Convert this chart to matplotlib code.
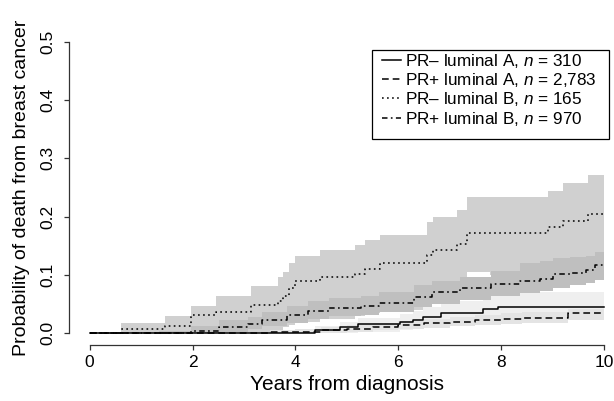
import numpy as np
import matplotlib
matplotlib.use("Agg")
import matplotlib.pyplot as plt
from matplotlib.patches import Rectangle

plt.rcParams['font.family'] = ['Liberation Sans', 'DejaVu Sans']
plt.rcParams['mathtext.fontset'] = 'custom'
plt.rcParams['mathtext.it'] = 'Liberation Sans:italic'
plt.rcParams['mathtext.rm'] = 'Liberation Sans'

# PR- luminal A (solid)
t_a_neg = [0, 4.39, 4.87, 5.22, 6.03, 6.29, 6.49, 6.84, 7.65, 7.94, 10]
p_a_neg = [0, 0.005, 0.0103, 0.0154, 0.02, 0.0228, 0.0285, 0.035, 0.041, 0.0457, 0.0457]
hi_a_neg = [0, 0.012, 0.02, 0.027, 0.033, 0.038, 0.045, 0.055, 0.064, 0.071, 0.071]
lo_a_neg = [0, 0, 0.001, 0.003, 0.006, 0.008, 0.012, 0.016, 0.02, 0.024, 0.024]

# PR+ luminal A (dashed)
t_a_pos = [0, 2.0, 3.0, 3.5, 4.0, 4.5, 5.0, 5.5, 6.0, 6.5, 7.0, 7.5, 8.0, 8.4, 9.31, 10]
p_a_pos = [0, 0.0005, 0.001, 0.002, 0.003, 0.005, 0.008, 0.011, 0.014, 0.017, 0.02, 0.022,
           0.025, 0.027, 0.034, 0.034]
hi_a_pos = [0, 0.002, 0.003, 0.005, 0.007, 0.01, 0.014, 0.018, 0.021, 0.025, 0.028, 0.031,
            0.034, 0.036, 0.042, 0.042]
lo_a_pos = [0, 0, 0, 0, 0, 0.001, 0.003, 0.005, 0.007, 0.009, 0.012, 0.014, 0.016, 0.018,
            0.023, 0.023]

# PR- luminal B (dotted)
t_b_neg = [0, 0.6, 1.46, 1.97, 2.45, 3.14, 3.66, 3.76, 3.88, 4.0, 4.48, 5.16, 5.35, 5.64,
           6.55, 6.68, 7.14, 7.33, 7.78, 8.92, 9.21, 9.69, 10]
p_b_neg = [0, 0.007, 0.0125, 0.031, 0.037, 0.049, 0.056, 0.064, 0.078, 0.089, 0.0966, 0.1025,
           0.111, 0.12, 0.134, 0.1436, 0.154, 0.172, 0.172, 0.183, 0.193, 0.204, 0.204]
hi_b_neg = [0, 0.017, 0.03, 0.047, 0.064, 0.081, 0.097, 0.105, 0.12, 0.133, 0.1425, 0.151,
            0.16, 0.168, 0.191, 0.2, 0.212, 0.233, 0.233, 0.244, 0.257, 0.271, 0.271]
lo_b_neg = [0, 0, 0, 0, 0, 0, 0.005, 0.01, 0.015, 0.02, 0.025, 0.03, 0.035, 0.04, 0.05, 0.055,
            0.065, 0.105, 0.1, 0.105, 0.11, 0.12, 0.12]

# PR+ luminal B (dot-dash)
t_b_pos = [0, 1.35, 1.97, 2.52, 3.07, 3.35, 3.83, 4.24, 4.65, 5.27, 5.62, 6.3, 6.65, 7.2,
           7.81, 8.36, 8.75, 9.0, 9.33, 9.66, 9.82, 10]
p_b_pos = [0, 0.001, 0.0045, 0.011, 0.016, 0.023, 0.031, 0.039, 0.044, 0.047, 0.052, 0.0625,
           0.07, 0.077, 0.085, 0.089, 0.094, 0.101, 0.104, 0.109, 0.117, 0.117]
hi_b_pos = [0, 0.004, 0.012, 0.022, 0.028, 0.036, 0.046, 0.055, 0.06, 0.064, 0.07, 0.082,
            0.09, 0.097, 0.107, 0.12, 0.124, 0.13, 0.131, 0.133, 0.14, 0.14]
lo_b_pos = [0, 0, 0, 0.003, 0.007, 0.012, 0.018, 0.024, 0.029, 0.032, 0.036, 0.045, 0.051,
            0.057, 0.064, 0.069, 0.072, 0.078, 0.082, 0.086, 0.091, 0.091]

labels = ["PR\u2013 luminal A, $n$ = 310", "PR+ luminal A, $n$ = 2,783",
          "PR\u2013 luminal B, $n$ = 165", "PR+ luminal B, $n$ = 970"]

fig = plt.figure(figsize=(6.14, 4.01), dpi=100)
ax = fig.add_axes([0.1125, 0.1397, 0.9047, 0.7853])

# confidence bands
ax.fill_between(t_b_neg, lo_b_neg, hi_b_neg, step='post', color='#d0d0d0', lw=0, zorder=1)
ax.fill_between(t_a_neg, lo_a_neg, hi_a_neg, step='post', color='#efefef', lw=0, zorder=2)
ax.fill_between(t_a_pos, lo_a_pos, hi_a_pos, step='post', color='#e4e4e4', lw=0, zorder=3)
ax.fill_between(t_b_pos, lo_b_pos, hi_b_pos, step='post', color='#bfbfbf', lw=0, zorder=4)

lw = 1.1
ax.plot(t_a_neg, p_a_neg, drawstyle='steps-post', color='black', lw=lw, zorder=10, label=labels[0])
ax.plot(t_a_pos, p_a_pos, drawstyle='steps-post', color='black', lw=lw, zorder=10,
        dashes=(4.4, 2.6), label=labels[1])
ax.plot(t_b_neg, p_b_neg, drawstyle='steps-post', color='black', lw=lw, zorder=10,
        dashes=(1.1, 2.2), label=labels[2])
ax.plot(t_b_pos, p_b_pos, drawstyle='steps-post', color='black', lw=lw, zorder=10,
        dashes=(3.6, 2.2, 1.1, 2.2), label=labels[3])

ax.set_xlim(-0.4, 10.4)
ax.set_ylim(-0.02, 0.52)
ax.spines['top'].set_visible(False)
ax.spines['right'].set_visible(False)
ax.spines['left'].set_bounds(0, 0.5)
ax.spines['bottom'].set_bounds(0, 10)
for s in ('left', 'bottom'):
    ax.spines[s].set_color('#333333')
    ax.spines[s].set_linewidth(0.9)

ax.set_xticks([0, 2, 4, 6, 8, 10])
ax.set_yticks([0.0, 0.1, 0.2, 0.3, 0.4, 0.5])
ax.set_yticklabels(["0.0", "0.1", "0.2", "0.3", "0.4", "0.5"], rotation=90, va='center')
ax.tick_params(length=3.6, width=0.9, color='#333333', labelsize=12.5, pad=3.5)
ax.tick_params(axis='y', pad=6)

ax.set_xlabel("Years from diagnosis", fontsize=15, labelpad=4)
ax.set_ylabel("Probability of death from breast cancer", fontsize=14, labelpad=8)

# legend without its own frame; box drawn separately to match R's padding
leg = ax.legend(loc='upper left', bbox_to_anchor=(382 / 614, 1 - 52 / 401),
                bbox_transform=fig.transFigure, borderaxespad=0, borderpad=0,
                fontsize=12.3, frameon=False, handlelength=1.12,
                handletextpad=0.22, labelspacing=0.07)
leg.set_zorder(20)
fig.add_artist(Rectangle((372 / 614, 1 - 139 / 401), (609 - 372) / 614, 89 / 401,
                         transform=fig.transFigure, fill=False, edgecolor='black',
                         lw=0.9, zorder=19))

fig.savefig("out.png", dpi=100)
